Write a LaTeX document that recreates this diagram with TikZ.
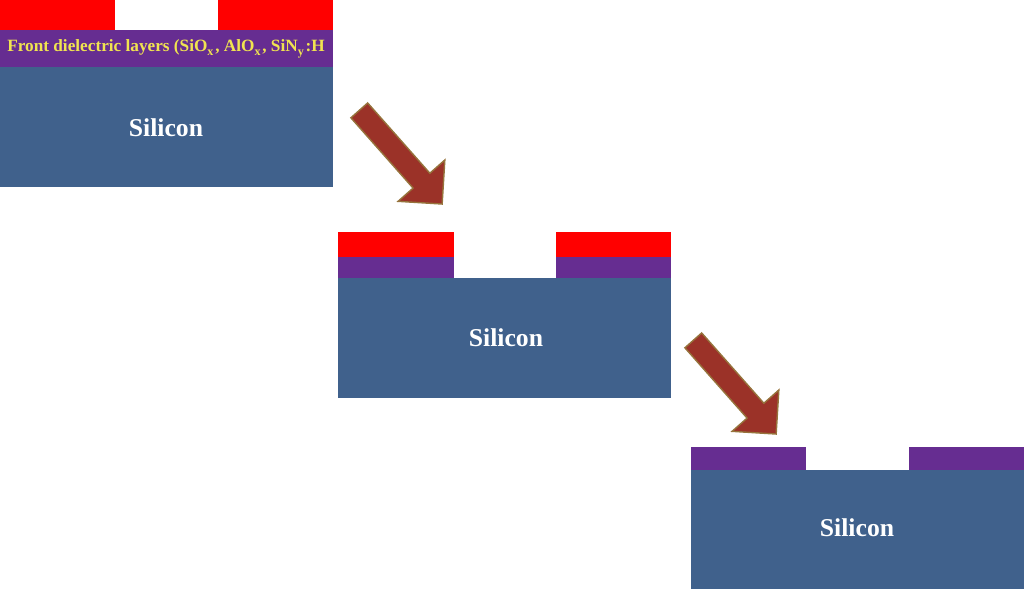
\documentclass[tikz,border=0pt]{standalone}
\usepackage{fontspec}
\setmainfont{Liberation Serif}
\usepackage{tikz}
\usetikzlibrary{positioning, shapes.arrows}
\definecolor{siblue}{RGB}{64,97,140}
\definecolor{dielec}{RGB}{102,45,145}
\definecolor{arrred}{RGB}{155,50,40}
\definecolor{arredge}{RGB}{150,115,60}
\definecolor{txtyel}{RGB}{240,228,80}

\tikzset{
	sitext/.style={text=white, font=\bfseries\fontsize{7.3}{8}\selectfont},
	stepArrow/.style={single arrow, fill=arrred, draw=arredge, line width=0.4pt,
		minimum height=1.25cm, minimum width=0.6cm, inner xsep=0pt, inner ysep=0.105cm,
		single arrow head extend=0.2cm, single arrow tip angle=90}
}

\begin{document}
\begin{tikzpicture}[x=0.01cm, y=-0.01cm]
		\useasboundingbox (0,0) rectangle (1024,590);
		
		% first stack
		\fill[red] (0,0) rectangle (115,30);
		\fill[red] (218,0) rectangle (333,30);
		\fill[dielec] (0,30) rectangle (333,67);
		\fill[siblue] (0,67) rectangle (333,187);
		\node[text=txtyel, font=\bfseries\fontsize{4.9}{5}\selectfont] (d1) at (166,49) {Front dielectric layers (SiO\textsubscript{x}, AlO\textsubscript{x}, SiN\textsubscript{y}:H};
		\node[sitext] (s1) at (166,128) {Silicon};
		
		% second stack
		\fill[red] (338,232) rectangle (454,257);
		\fill[red] (556,232) rectangle (671,257);
		\fill[dielec] (338,257) rectangle (454,278);
		\fill[dielec] (556,257) rectangle (671,278);
		\fill[siblue] (338,278) rectangle (671,398);
		\node[sitext] (s2) at (506,338) {Silicon};
		
		% third stack
		\fill[dielec] (691,447) rectangle (806,470);
		\fill[dielec] (909,447) rectangle (1024,470);
		\fill[siblue] (691,470) rectangle (1024,589);
		\node[sitext] (s3) at (857,528) {Silicon};
		
		\node[stepArrow, rotate=-48.5] (a1) at (397,153) {};
		\node[stepArrow, rotate=-48.5] (a2) at (731,383) {};
	\end{tikzpicture}
\end{document}
